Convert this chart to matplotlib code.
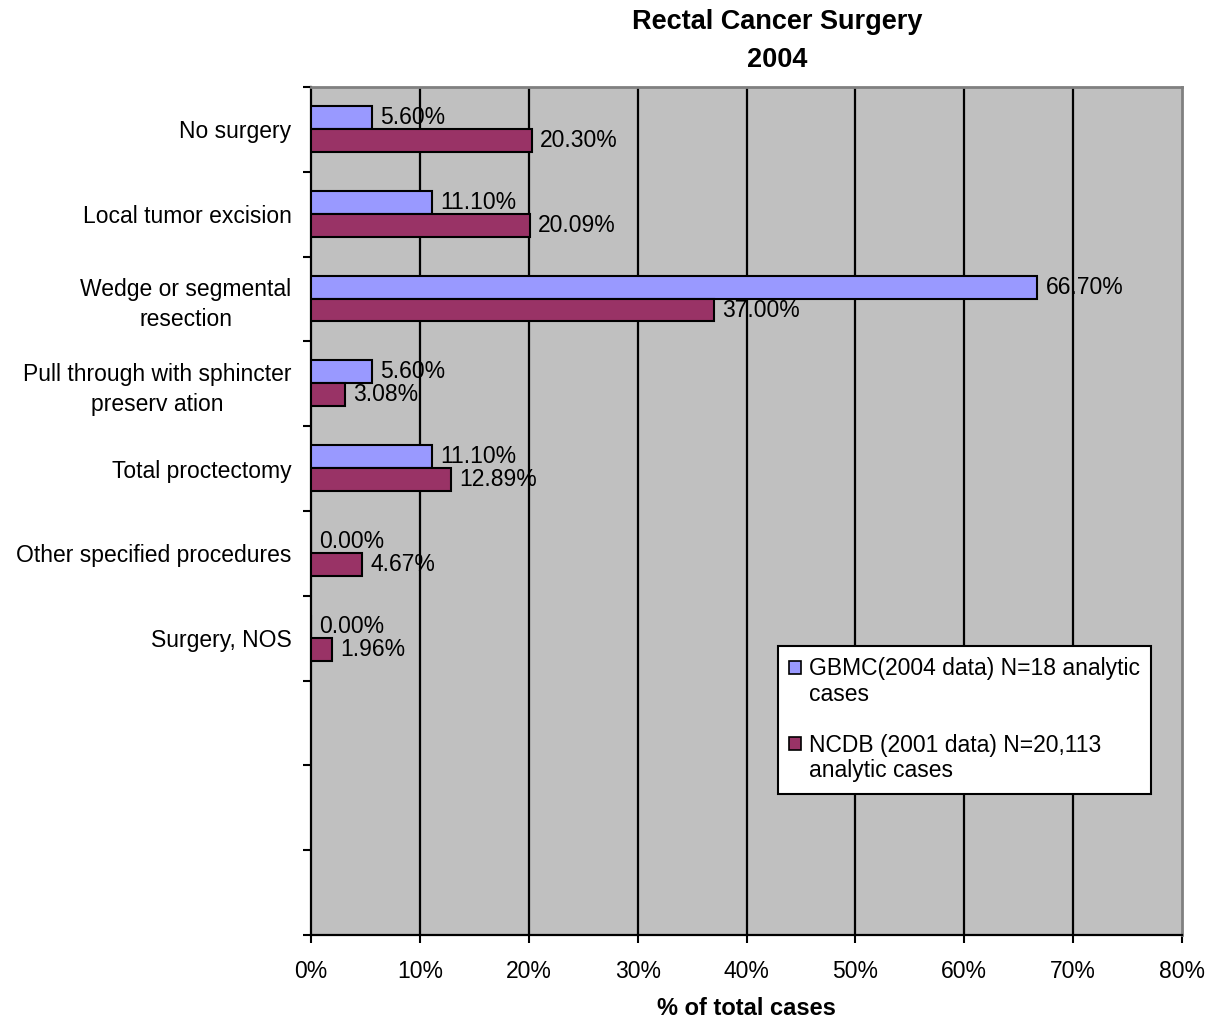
import matplotlib
matplotlib.use("Agg")
import matplotlib.pyplot as plt
from matplotlib.patches import Rectangle
import numpy as np

plt.rcParams['font.family'] = ['Liberation Sans', 'DejaVu Sans']

categories = [
    "No surgery",
    "Local tumor excision",
    "Wedge or segmental\nresection",
    "Pull through with sphincter\npreserv ation",
    "Total proctectomy",
    "Other specified procedures",
    "Surgery, NOS",
]
gbmc = [5.60, 11.10, 66.70, 5.60, 11.10, 0.00, 0.00]
ncdb = [20.30, 20.09, 37.00, 3.08, 12.89, 4.67, 1.96]
series_names = [
    "GBMC(2004 data) N=18 analytic\ncases",
    "NCDB (2001 data) N=20,113\nanalytic cases",
]
x_ticks = [0, 10, 20, 30, 40, 50, 60, 70, 80]
n_slots = 10  # category slots on the axis, the last three are empty

GBMC_COLOR = "#9999FF"
NCDB_COLOR = "#993366"
FS = 16.5

fig = plt.figure(figsize=(12.22, 10.23), dpi=100)
ax = fig.add_axes([311 / 1222, 1 - 935 / 1023, 871 / 1222, 848 / 1023])
ax.set_facecolor("#C0C0C0")

y = np.arange(len(categories))
bar_h = 0.27
ax.barh(y - 0.14, gbmc, height=bar_h, color=GBMC_COLOR, edgecolor="black",
        linewidth=1.5, zorder=3)
ax.barh(y + 0.13, ncdb, height=bar_h, color=NCDB_COLOR, edgecolor="black",
        linewidth=1.5, zorder=3)

for yi, v in zip(y - 0.14, gbmc):
    ax.annotate(f"{v:.2f}%", (v, yi), xytext=(6, 0), textcoords="offset points",
                ha="left", va="center", fontsize=FS, zorder=4)
for yi, v in zip(y + 0.13, ncdb):
    ax.annotate(f"{v:.2f}%", (v, yi), xytext=(6, 0), textcoords="offset points",
                ha="left", va="center", fontsize=FS, zorder=4)

ax.set_xlim(0, 80)
ax.set_ylim(n_slots - 0.5, -0.5)

ax.set_xticks(x_ticks)
ax.set_xticklabels([f"{t}%" for t in x_ticks], fontsize=FS)
ax.tick_params(axis="x", direction="out", length=6, width=1.5, pad=12)

ax.set_yticks(np.arange(n_slots + 1) - 0.5)
ax.set_yticklabels([])
ax.set_yticks(y, categories, minor=True)
ax.tick_params(axis="y", which="major", direction="out", length=6, width=1.5)
ax.tick_params(axis="y", which="minor", length=0, pad=14, labelsize=FS)
for lbl in ax.get_yticklabels(minor=True):
    lbl.set_multialignment("center")
    lbl.set_linespacing(1.35)

for xv in x_ticks[1:-1]:
    ax.axvline(xv, color="black", linewidth=1.6, zorder=1)

for side in ("left", "bottom"):
    ax.spines[side].set_color("black")
    ax.spines[side].set_linewidth(1.6)
for side in ("top", "right"):
    ax.spines[side].set_color("#808080")
    ax.spines[side].set_linewidth(2)

ax.set_xlabel("% of total cases", fontsize=17, fontweight="bold", labelpad=10)

fig.text(777 / 1222, 1 - 41 / 1023, "Rectal Cancer Surgery\n2004", ha="center",
         va="center", fontsize=19.5, fontweight="bold", linespacing=1.6)

handles = [
    Rectangle((0, 0), 1, 1, facecolor=GBMC_COLOR, edgecolor="black", linewidth=1.2),
    Rectangle((0, 0), 1, 1, visible=False),
    Rectangle((0, 0), 1, 1, visible=False),
    Rectangle((0, 0), 1, 1, facecolor=NCDB_COLOR, edgecolor="black", linewidth=1.2),
    Rectangle((0, 0), 1, 1, visible=False),
]
first0, second0 = series_names[0].split("\n")
first1, second1 = series_names[1].split("\n")
labels = [first0, second0, " ", first1, second1]
leg = ax.legend(handles, labels, loc="upper left", bbox_to_anchor=(0.536, 0.341),
                borderaxespad=0, fontsize=FS, frameon=True, fancybox=False,
                framealpha=1, edgecolor="black", handlelength=0.5,
                handleheight=0.5, handletextpad=0.35, labelspacing=0.11,
                borderpad=0.5)
leg.get_frame().set_linewidth(1.5)
leg.set_zorder(5)

fig.savefig("out.png", dpi=100)
